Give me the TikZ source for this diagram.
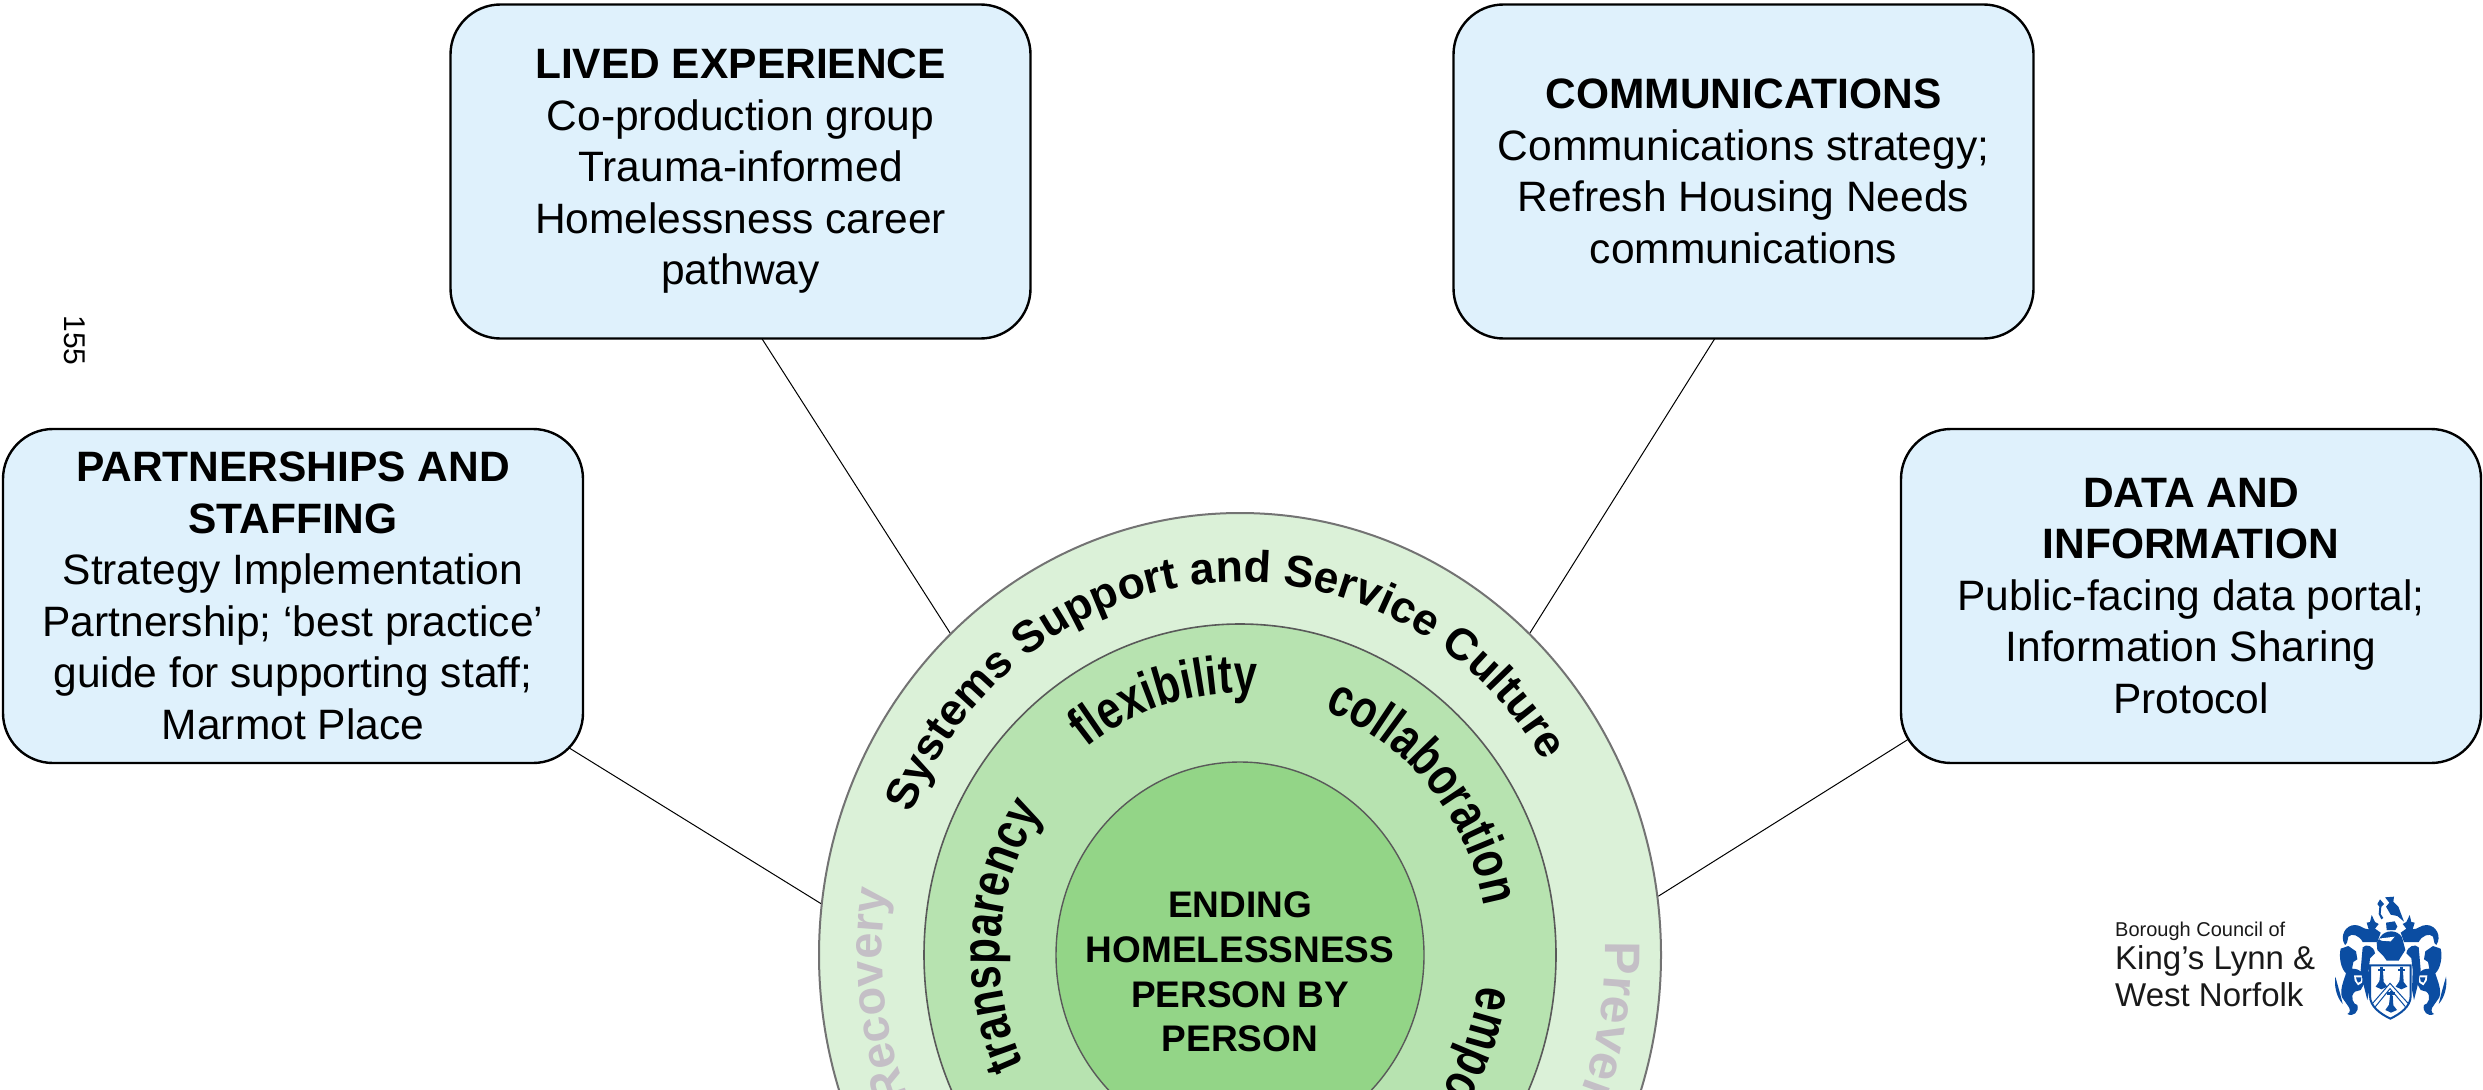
\documentclass[tikz,border=0pt]{standalone}
\usepackage{fontspec}
\setmainfont{Liberation Sans}
\newfontfamily\curvfont[FakeStretch=0.78]{Liberation Sans}
\usetikzlibrary{shapes.geometric,decorations.text,calc}
\pgfdeclarelayer{back}
\pgfsetlayers{back,main}
\definecolor{boxfill}{HTML}{DFF1FC}
\definecolor{ringa}{HTML}{DBF1D8}
\definecolor{ringb}{HTML}{B7E3B0}
\definecolor{ringc}{HTML}{93D587}
\definecolor{fadedtxt}{HTML}{C4BFC6}
\definecolor{crest}{HTML}{0B4DA2}
\tikzset{
  infobox/.style={draw=black,line width=2.4pt,fill=boxfill,rounded corners=50pt,
    minimum width=580pt,minimum height=334pt,inner sep=0pt,align=center,
    font=\fontsize{42.5}{51.5}\selectfont},
  ring/.style={ellipse,inner sep=0pt,draw=#1},
  link/.style={draw=black,line width=1pt},
  curvedsys/.style={decorate,decoration={text along path,text align=center,
    text={|\bfseries\fontsize{44.5}{50}\selectfont|#1}}},
  curvedin/.style={decorate,decoration={text along path,text align=center,
    text={|\curvfont\bfseries\fontsize{54}{60}\selectfont|#1}}},
  logotxt/.style={anchor=base west,inner sep=0pt,text=black!90},
  crestfill/.style={fill=crest,draw=none},
}
\newcommand{\crestside}{%
  % mantling
  \path[crestfill] (75,165) .. controls (58,140) and (75,105) .. (105,105)
    .. controls (122,105) and (130,118) .. (146,118) -- (140,98) -- (150,96) -- (155,75) -- (165,96) -- (176,102)
    -- (165,116) -- (182,128) -- (172,156) -- (128,156)
    .. controls (118,136) and (95,128) .. (85,140) .. controls (80,148) and (86,158) .. (75,165) -- cycle;
  % outer lion
  \path[crestfill] (62,176) -- (85,168) -- (108,184) -- (112,208) -- (100,216) -- (96,236)
    .. controls (120,236) and (138,250) .. (136,275) -- (122,300) -- (105,305)
    .. controls (88,318) and (100,345) .. (112,345) .. controls (118,365) and (100,382) .. (82,372)
    .. controls (92,368) and (92,356) .. (82,345) -- (66,322) .. controls (58,300) and (72,270) .. (78,250)
    .. controls (62,235) and (56,200) .. (62,176) -- cycle;
  % fin
  \path[crestfill] (46,260) .. controls (42,285) and (48,320) .. (68,342) -- (60,310) -- (46,260) -- cycle;
  % leg outline
  \path[fill=white] (102,256) -- (130,256) -- (126,278) -- (114,286) -- (104,272) -- cycle;
  \path[crestfill] (108,262) -- (124,262) -- (122,274) -- (114,278) -- (110,270) -- cycle;
  % inner lion
  \path[crestfill] (128,172) .. controls (138,160) and (162,168) .. (165,190)
    -- (150,205) -- (146,240) -- (148,300) -- (142,330) -- (132,290) -- (122,240) -- (125,205) -- cycle;
}
\begin{document}
\begin{tikzpicture}[x=1pt,y=1pt]
\useasboundingbox (0,0) rectangle (2483,-1089);
\clip (0,0) rectangle (2483,-1089);

% boxes
\node[infobox] (lived) at (740.5,-171.5) {\textbf{LIVED EXPERIENCE}\\Co-production group\\Trauma-informed\\Homelessness career\\pathway};
\node[infobox] (comm) at (1743.5,-171.5) {\textbf{COMMUNICATIONS}\\Communications strategy;\\Refresh Housing Needs\\communications};
\node[infobox] (partn) at (293,-596) {\textbf{PARTNERSHIPS AND}\\\textbf{STAFFING}\\Strategy Implementation\\Partnership; ‘best practice’\\guide for supporting staff;\\Marmot Place};
\node[infobox] (data) at (2191,-596) {\textbf{DATA AND}\\\textbf{INFORMATION}\\Public-facing data portal;\\Information Sharing\\Protocol};

% rings
\node[ring=black!55,line width=2pt,fill=ringa,minimum width=842pt,minimum height=884pt] (outer) at (1240,-955) {};
\node[ring=black!65,line width=1.6pt,fill=ringb,minimum width=632pt,minimum height=662pt] (middle) at (1240,-955) {};
\node[ring=black!65,line width=1.4pt,fill=ringc,minimum width=368pt,minimum height=386pt,align=center,
  font=\bfseries\fontsize{37}{44.6}\selectfont] (inner) at (1240,-955) {};
\node[inner sep=0pt,align=center,font=\bfseries\fontsize{37}{44.6}\selectfont] (core) at (1240,-972) {ENDING\\HOMELESSNESS\\PERSON BY\\PERSON};

% connectors
\begin{pgfonlayer}{back}
\draw[link] ($(lived.center)+(-21.5,-100)$) -- (outer.132.3);
\draw[link] ($(comm.center)+(13.4,-100)$) -- (outer.48.1);
\draw[link] ($(partn.center)+(252,-137)$) -- (outer.173.1);
\draw[link] ($(data.center)+(-260,-129)$) -- (outer.8.75);
\end{pgfonlayer}

% curved text
\path[curvedsys={Systems Support and Service Culture}] ([shift={(1240,-955)}]159:355 and 373) arc[start angle=159,end angle=30,x radius=355,y radius=373];
\path[curvedin={flexibility}] ([shift={(1240,-955)}]127:250 and 262) arc[start angle=127,end angle=87,x radius=250,y radius=262];
\path[curvedin={collaboration}] ([shift={(1240,-955)}]71:248 and 260) arc[start angle=71,end angle=10,x radius=248,y radius=260];
\path[curvedin={transparency}] ([shift={(1240,-955)}]208:240 and 252) arc[start angle=208,end angle=143,x radius=240,y radius=252];
\path[decorate,decoration={text along path,text align=left,
    text={|\curvfont\bfseries\fontsize{54}{60}\selectfont|empo}}] ([shift={(1240,-955)}]-7:240 and 252) arc[start angle=-7,end angle=-50,x radius=240,y radius=252];
\path[decorate,decoration={text along path,text align=right,
    text={|\color{fadedtxt}\bfseries\fontsize{47}{52}\selectfont|Recovery}}] ([shift={(1240,-955)}]200:358 and 376) arc[start angle=200,end angle=170,x radius=358,y radius=376];
\path[decorate,decoration={text along path,text align=left,
    text={|\color{fadedtxt}\bfseries\fontsize{50}{56}\selectfont|Preven}}] ([shift={(1240,-955)}]2:365 and 383) arc[start angle=2,end angle=-40,x radius=365,y radius=383];

% page number
\node[rotate=-90,inner sep=0pt,font=\fontsize{30}{30}\selectfont] (pagenum) at (75,-340.5) {155};

% logo text
\node[logotxt,font=\fontsize{20}{20}\selectfont] (logoa) at (2115,-936) {Borough Council of};
\node[logotxt,font=\fontsize{33}{33}\selectfont] (logob) at (2115,-969) {King’s Lynn \&};
\node[logotxt,font=\fontsize{33}{33}\selectfont] (logoc) at (2115,-1006) {West Norfolk};

% coat of arms
\begin{scope}[shift={(2320,-890)},x=0.3333pt,y=-0.3333pt]
  \crestside
  \begin{scope}[xscale=-1,shift={(-424,0)}]\crestside\end{scope}
  % bird
  \path[crestfill] (195,22) -- (222,20) -- (220,35) -- (235,50) -- (252,95) -- (232,78) -- (212,74) -- (198,50) -- (208,38) -- cycle;
  \path[crestfill] (172,42) -- (180,28) -- (192,42) -- (184,50) -- (182,72) -- (190,84) -- (184,88) -- (176,72) -- (178,50) -- cycle;
  % torse
  \path[crestfill] (198,98) -- (224,94) -- (232,110) -- (226,120) -- (200,120) -- cycle;
  % helm
  \path[crestfill] (180,142) .. controls (195,118) and (232,118) .. (246,142) -- (256,180) -- (240,205) -- (236,212) -- (200,212) -- (190,198) -- (172,180) -- (170,158) -- cycle;
  \path[fill=white] (176,146) -- (224,140) -- (212,154) -- (184,152) -- cycle;
  % shield
  \path[fill=white,draw=crest,line width=2pt] (150,226) -- (272,226) -- (272,318) .. controls (272,350) and (240,372) .. (211,386) .. controls (182,372) and (150,350) .. (150,318) -- cycle;
  % chevron
  \draw[crest,line width=1pt] (156,342) -- (210,280) -- (266,342);
  \draw[crest,line width=1pt] (166,350) -- (210,296) -- (256,350);
  % charges
  \foreach \px/\py in {184/240,244/240,213/310}{
    \path[crestfill] (\px-4,\py-8) rectangle (\px+4,\py+8);
    \path[crestfill] (\px-11,\py-4) rectangle (\px+11,\py+4);
    \path[crestfill] (\px-3,\py+6) -- (\px+5,\py+6) -- (\px+7,\py+36) -- (\px+18,\py+50) -- (\px,\py+58) -- (\px-17,\py+50) -- (\px-6,\py+34) -- cycle;
  }
\end{scope}
\end{tikzpicture}
\end{document}
